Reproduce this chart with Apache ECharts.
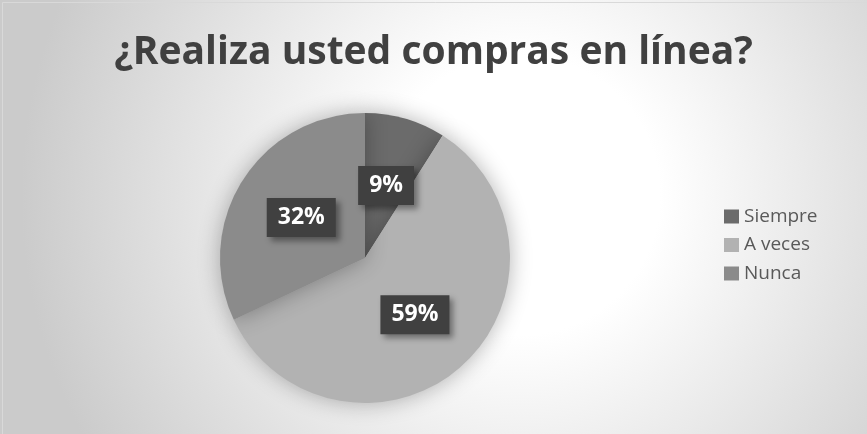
<!DOCTYPE html>
<html><head><meta charset="utf-8">
<script src="https://cdn.jsdelivr.net/npm/echarts@6/dist/echarts.min.js"></script>
<style>html,body{margin:0;padding:0;}#c{width:867px;height:434px;}</style>
</head><body><div id="c"></div>
<script>
const categories = ["Siempre", "A veces", "Nunca"];
const values = [9, 59, 32];
const colors = ["#6b6b6b", "#b2b2b2", "#8b8b8b"];
const titleText = "¿Realiza usted compras en línea?";

const chart = echarts.init(document.getElementById('c'));
chart.setOption({
  backgroundColor: {
    type: 'radial', x: 0.6, y: 0.45, r: 1.15,
    colorStops: [{offset: 0, color: '#ffffff'}, {offset: 0.28, color: '#ffffff'}, {offset: 1, color: '#cbcbcb'}]
  },
  graphic: [{
    type: 'rect', left: 0, top: 0, silent: true,
    shape: {x: 0.5, y: 0.5, width: 866, height: 433},
    style: {fill: 'none', stroke: '#d9d9d9', lineWidth: 1}
  }],
  title: {
    text: titleText, left: 'center', top: 28,
    textStyle: {fontFamily: 'Open Sans', fontWeight: 'bold', fontSize: 39, color: '#404040'}
  },
  legend: {
    orient: 'vertical', left: 719, top: 202, itemGap: 9.5,
    itemWidth: 15, itemHeight: 14, icon: 'rect',
    textStyle: {fontFamily: 'Open Sans', fontSize: 19, color: '#595959'},
    data: categories
  },
  series: [{
    type: 'pie', center: [365, 258], radius: 145, startAngle: 90, clockwise: true,
    animation: false,
    data: categories.map((c, i) => ({name: c, value: values[i], itemStyle: {color: colors[i]}})),
    itemStyle: {shadowBlur: 22, shadowColor: 'rgba(0,0,0,0.3)'},
    label: {
      position: 'inside', formatter: '{d}%',
      fontFamily: 'Open Sans', fontWeight: 'bold', fontSize: 23, color: '#ffffff',
      backgroundColor: '#404040', padding: [9, 11, 7, 11],
      shadowBlur: 6, shadowColor: 'rgba(0,0,0,0.4)', shadowOffsetX: 4, shadowOffsetY: 4
    },
    labelLine: {show: false},
    emphasis: {disabled: true}
  }]
});
</script></body></html>
